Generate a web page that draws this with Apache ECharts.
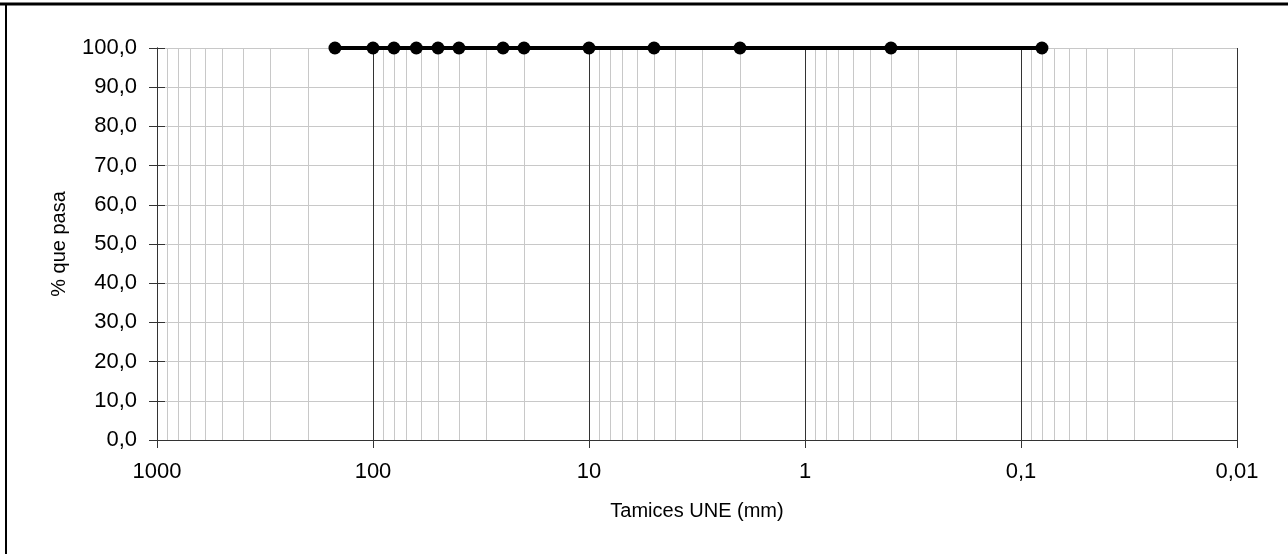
<!DOCTYPE html>
<html>
<head>
<meta charset="utf-8">
<script src="https://cdn.jsdelivr.net/npm/echarts@6/dist/echarts.min.js"></script>
<style>
html,body{margin:0;padding:0;background:#fff;}
#chart{width:1288px;height:554px;}
</style>
</head>
<body>
<div id="chart"></div>
<script>
// Sieve sizes (mm) and % passing
const sieveSizes = [150, 100, 80, 63, 50, 40, 25, 20, 10, 5, 2, 0.4, 0.08];
const percentPassing = [100, 100, 100, 100, 100, 100, 100, 100, 100, 100, 100, 100, 100];
const xTitle = 'Tamices UNE (mm)';
const yTitle = '% que pasa';
const decades = [0.01, 0.1, 1, 10, 100];
const minorMultipliers = [2, 3, 4, 5, 6, 7, 8, 9];

const minorLines = [];
decades.forEach(d => minorMultipliers.forEach(m => minorLines.push({ xAxis: +(d * m).toPrecision(6) })));

const FONT = 'Liberation Sans, Arial, sans-serif';
const fmtX = v => String(+(+v).toPrecision(6)).replace('.', ',');
const fmtY = v => (+v).toFixed(1).replace('.', ',');

const W = 1288, H = 554;
const G = { left: 157, right: 51, top: 48, bottom: 114 };
const gw = W - G.left - G.right, gh = H - G.top - G.bottom;

const chart = echarts.init(document.getElementById('chart'), null, { renderer: 'canvas' });
const axisLineStyle = { color: '#333', width: 1 };

chart.setOption({
  animation: false,
  backgroundColor: '#fff',
  grid: { left: G.left, right: G.right, top: G.top, bottom: G.bottom, containLabel: false },
  graphic: [
    { type: 'line', shape: { x1: 0, y1: 4, x2: W, y2: 4 }, style: { stroke: '#000', lineWidth: 3 }, silent: true },
    { type: 'line', shape: { x1: 6, y1: 3, x2: 6, y2: H }, style: { stroke: '#000', lineWidth: 2 }, silent: true }
  ],
  xAxis: [
    {
      type: 'log', logBase: 10, min: 0.01, max: 1000, inverse: true, position: 'bottom',
      name: xTitle, nameLocation: 'middle', nameGap: 61,
      nameTextStyle: { fontFamily: FONT, fontSize: 20, color: '#000' },
      axisLine: { show: true, lineStyle: axisLineStyle },
      axisTick: { show: true, inside: false, length: 8, lineStyle: axisLineStyle },
      axisLabel: { formatter: fmtX, fontFamily: FONT, fontSize: 22, color: '#000', margin: 21 },
      splitLine: { show: true, lineStyle: { color: '#333', width: 1 } },
      minorTick: { show: false }, minorSplitLine: { show: false }
    },
    {
      type: 'log', logBase: 10, min: 0.01, max: 1000, inverse: true, position: 'top', offset: -gh,
      axisLine: { show: true, onZero: false, lineStyle: axisLineStyle },
      axisTick: { show: true, inside: false, length: 8, lineStyle: axisLineStyle },
      axisLabel: { show: false }, splitLine: { show: false }
    }
  ],
  yAxis: [
    {
      type: 'value', min: 0, max: 100, interval: 10, position: 'left',
      name: yTitle, nameLocation: 'middle', nameGap: 88, nameRotate: 90,
      nameTextStyle: { fontFamily: FONT, fontSize: 20, color: '#000' },
      axisLine: { show: true, lineStyle: axisLineStyle },
      axisTick: { show: true, inside: false, length: 8, lineStyle: axisLineStyle },
      axisLabel: { formatter: fmtY, fontFamily: FONT, fontSize: 22, color: '#000', margin: 20 },
      splitLine: { show: true, lineStyle: { color: '#c8c8c8', width: 1 } }
    },
    {
      type: 'value', min: 0, max: 100, interval: 10, position: 'right', offset: -gw,
      axisLine: { show: true, onZero: false, lineStyle: axisLineStyle },
      axisTick: { show: true, inside: false, length: 8, lineStyle: axisLineStyle },
      axisLabel: { show: false }, splitLine: { show: false }
    }
  ],
  series: [
    {
      type: 'line', xAxisIndex: 0, yAxisIndex: 0, data: [], silent: true,
      markLine: {
        silent: true, symbol: ['none', 'none'], label: { show: false },
        lineStyle: { color: '#c8c8c8', width: 1, type: 'solid' },
        animation: false, data: minorLines
      },
      z: 1
    },
    {
      type: 'line', xAxisIndex: 0, yAxisIndex: 0,
      data: sieveSizes.map((s, i) => [s, percentPassing[i]]),
      clip: false, symbol: 'circle', symbolSize: 13,
      itemStyle: { color: '#000' },
      lineStyle: { color: '#000', width: 4 },
      z: 5
    }
  ]
});
</script>
</body>
</html>
